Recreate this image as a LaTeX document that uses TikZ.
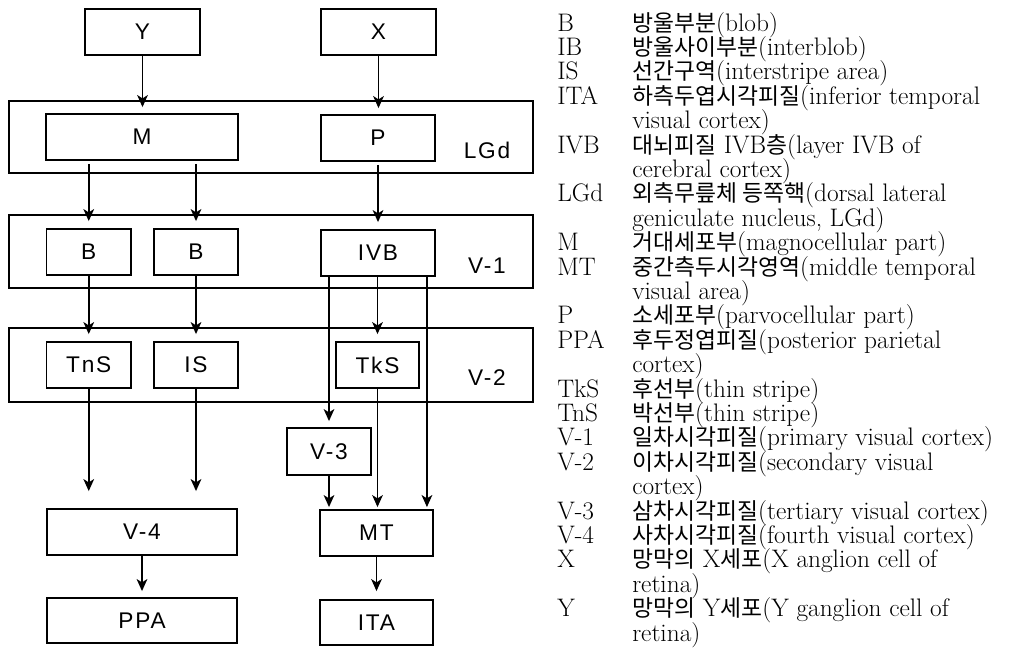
\documentclass[tikz,border=0pt]{standalone}
\usepackage{fontspec}
\usepackage{tikz}
\usetikzlibrary{arrows.meta, positioning, calc}
\newfontfamily\legfont{Latin Modern Roman}
\newfontfamily\krfont{Noto Sans CJK KR}[Scale=0.9]
\newfontfamily\boxfont{Liberation Sans}[LetterSpace=8]
\newcommand{\px}{0.75pt}
\newcommand{\kr}[1]{{\krfont #1}}
\tikzset{
  cell/.style 2 args={draw, line width=1.4pt, inner sep=0pt, minimum width=#1*\px, minimum height=#2*\px, font={\boxfont\fontsize{17}{18}\selectfont}},
  area/.style={draw, line width=1.5pt, inner sep=0pt, minimum width=524*\px, minimum height=#1*\px},
  arealabel/.style={anchor=base, inner sep=0pt, font={\boxfont\fontsize{17}{18}\selectfont}},
  flow/.style={-{Stealth[length=9pt, width=8pt, inset=2.5pt]}, line width=1.4pt, shorten >=#1*\px},
  flow/.default=6,
  legtext/.style={anchor=base west, inner sep=0pt, font={\legfont\fontsize{19}{20}\selectfont}},
  every node/.style={text=black}
}

\begin{document}
\begin{tikzpicture}[x=0.75pt, y=-0.75pt]
    \useasboundingbox (0,0) rectangle (1012,647);
    \node[cell={115}{46}] (Y) at (142.5,32) {Y};
    \node[cell={115}{46}] (X) at (378.5,32) {X};

    \node[area=72] (LGd) at (271,137) {};
    \node[cell={192}{46}] (M) at (142,137) {M};
    \node[cell={114}{46}] (P) at (378,138) {P};
    \node[arealabel] (lgdlab) at (487,158) {LGd};

    \node[area=73] (V1) at (271,251.5) {};
    \node[cell={84.5}{46}] (B1) at (88.75,252) {B};
    \node[cell={84}{46}] (B2) at (196,252) {B};
    \node[cell={114}{46}] (IVB) at (378,253) {IVB};
    \node[arealabel] (v1lab) at (487,273) {V-1};

    \node[area=74] (V2) at (271,365) {};
    \node[cell={84.5}{46}] (TnS) at (88.75,365) {TnS};
    \node[cell={84}{46}] (IS) at (196,365) {IS};
    \node[cell={83}{46}] (TkS) at (377.5,365) {TkS};
    \node[arealabel] (v2lab) at (487,385) {V-2};

    \node[cell={84}{47}] (V3) at (329,451.5) {V-3};
    \node[cell={190}{46}] (V4) at (142,532) {V-4};
    \node[cell={113}{46}] (MT) at (376.5,533) {MT};
    \node[cell={190}{45}] (PPA) at (142,620.5) {PPA};
    \node[cell={113}{45}] (ITA) at (376.5,622.5) {ITA};
    \coordinate (mtin) at ([xshift=-7*\px]MT.north east);

    \draw[flow] (Y.south) -- (Y.south |- M.north);
    \draw[flow] (X.south) -- (X.south |- P.north);
    \draw[flow=7, shorten <=3*\px] (B1.north |- M.south) -- (B1.north);
    \draw[flow=7, shorten <=3*\px] (B2.north |- M.south) -- (B2.north);
    \draw[flow=7, shorten <=3*\px] (P.south) -- (P.south |- IVB.north);
    \draw[flow=7] (B1.south) -- (TnS.north);
    \draw[flow=7] (B2.south) -- (IS.north);
    \draw[flow=7] (TkS.north |- IVB.south) -- (TkS.north);
    \draw[flow] (V3.north |- IVB.south) -- (V3.north);
    \draw[flow=2] (mtin |- IVB.south) -- (mtin);
    \draw[flow=17] (TnS.south) -- (TnS.south |- V4.north);
    \draw[flow=17] (IS.south) -- (IS.south |- V4.north);
    \draw[flow=2] (TkS.south) -- (TkS.south |- MT.north);
    \draw[flow=2] (V3.south) -- (V3.south |- MT.north);
    \draw[flow] (V4) -- (PPA);
    \draw[flow=8] (MT) -- (ITA);

    \foreach \ab/\i in {B/0, IB/1, IS/2, ITA/3, IVB/5, LGd/7, M/9, MT/10, P/12, PPA/13, TkS/15, TnS/16, V-1/17, V-2/18, V-3/20, V-4/21, X/22, Y/24}
      \node[legtext] (abbr\i) at (557, 31+24.4*\i) {\ab};
    \foreach \txt [count=\i from 0] in {
      {\kr{방울부분}(blob)},
      {\kr{방울사이부분}(interblob)},
      {\kr{선간구역}(interstripe area)},
      {\kr{하측두엽시각피질}(inferior temporal},
      {visual cortex)},
      {\kr{대뇌피질} IVB\kr{층}(layer IVB of},
      {cerebral cortex)},
      {\kr{외측무릎체 등쪽핵}(dorsal lateral},
      {geniculate nucleus, LGd)},
      {\kr{거대세포부}(magnocellular part)},
      {\kr{중간측두시각영역}(middle temporal},
      {visual area)},
      {\kr{소세포부}(parvocellular part)},
      {\kr{후두정엽피질}(posterior parietal},
      {cortex)},
      {\kr{후선부}(thin stripe)},
      {\kr{박선부}(thin stripe)},
      {\kr{일차시각피질}(primary visual cortex)},
      {\kr{이차시각피질}(secondary visual},
      {cortex)},
      {\kr{삼차시각피질}(tertiary visual cortex)},
      {\kr{사차시각피질}(fourth visual cortex)},
      {\kr{망막의} X\kr{세포}(X anglion cell of},
      {retina)},
      {\kr{망막의} Y\kr{세포}(Y ganglion cell of},
      {retina)}}
      \node[legtext] (desc\i) at (632, 31+24.4*\i) {\txt};
\end{tikzpicture}
\end{document}
